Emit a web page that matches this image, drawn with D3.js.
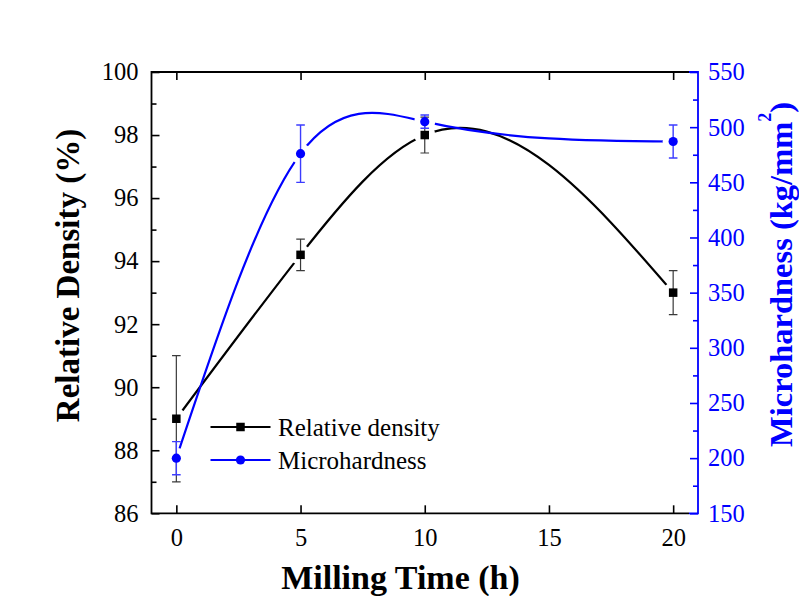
<!DOCTYPE html>
<html>
<head>
<meta charset="utf-8">
<script src="https://cdn.jsdelivr.net/npm/d3@7"></script>
<style>
  html, body { margin: 0; padding: 0; background: #ffffff; }
  svg { display: block; font-family: "Times New Roman", "Liberation Serif", serif; }
</style>
</head>
<body>
<svg id="chart" width="799" height="596"></svg>
<script>
// Milling time (h)
const millingTime = [0, 5, 10, 20];
// Relative density (%) and its error
const densityValues = [89.0, 94.2, 98.0, 93.0];
const densityErrors = [2.0, 0.5, 0.57, 0.7];
// Microhardness (kg/mm^2) and its error
const hardnessValues = [200, 476, 505, 487];
const hardnessErrors = [15, 26, 6, 15];

const xTicks = [0, 5, 10, 15, 20];
const leftTicks = [86, 88, 90, 92, 94, 96, 98, 100];
const leftMinorTicks = [87, 89, 91, 93, 95, 97, 99];
const rightTicks = [150, 200, 250, 300, 350, 400, 450, 500, 550];
const rightMinorTicks = [175, 225, 275, 325, 375, 425, 475, 525];

const legendLabels = ["Relative density", "Microhardness"];

const BLUE = "#0000ff";
const svg = d3.select("#chart");

const plot = { left: 151.5, right: 698, top: 72, bottom: 513.3 };

const x = d3.scaleLinear().domain([-1, 21]).range([plot.left, plot.right]);
const yL = d3.scaleLinear().domain([86, 100]).range([plot.bottom, plot.top]);
const yR = d3.scaleLinear().domain([150, 550]).range([plot.bottom, plot.top]);

// Natural cubic spline with x as the independent variable, emitted as exact Bezier segments
function curveNaturalX(context) {
  return {
    areaStart() {}, areaEnd() {},
    lineStart() { this._x = []; this._y = []; },
    point(px, py) { this._x.push(+px); this._y.push(+py); },
    lineEnd() {
      const X = this._x, Y = this._y, n = X.length;
      if (!n) return;
      context.moveTo(X[0], Y[0]);
      if (n === 1) return;
      const h = [];
      for (let i = 0; i < n - 1; i++) h.push(X[i + 1] - X[i]);
      const M = new Array(n).fill(0);
      if (n > 2) {
        const a = [], b = [], c = [], r = [];
        for (let i = 1; i < n - 1; i++) {
          a.push(h[i - 1]);
          b.push(2 * (h[i - 1] + h[i]));
          c.push(h[i]);
          r.push(6 * ((Y[i + 1] - Y[i]) / h[i] - (Y[i] - Y[i - 1]) / h[i - 1]));
        }
        const m = b.length;
        for (let i = 1; i < m; i++) {
          const w = a[i] / b[i - 1];
          b[i] -= w * c[i - 1];
          r[i] -= w * r[i - 1];
        }
        const sol = new Array(m);
        sol[m - 1] = r[m - 1] / b[m - 1];
        for (let i = m - 2; i >= 0; i--) sol[i] = (r[i] - c[i] * sol[i + 1]) / b[i];
        for (let i = 0; i < m; i++) M[i + 1] = sol[i];
      }
      for (let i = 0; i < n - 1; i++) {
        const hi = h[i];
        const s = (Y[i + 1] - Y[i]) / hi;
        const d0 = s - hi * (2 * M[i] + M[i + 1]) / 6;
        const d1 = s + hi * (M[i] + 2 * M[i + 1]) / 6;
        context.bezierCurveTo(
          X[i] + hi / 3, Y[i] + d0 * hi / 3,
          X[i + 1] - hi / 3, Y[i + 1] - d1 * hi / 3,
          X[i + 1], Y[i + 1]
        );
      }
    }
  };
}

// ---- Axes ----
const axisStyle = (g, color) => {
  g.selectAll(".domain").remove();
  g.selectAll(".tick line").attr("stroke", color).attr("stroke-width", 1.6);
  g.selectAll(".tick text").attr("fill", color).attr("font-size", 24.5)
    .attr("font-family", "'Times New Roman', 'Liberation Serif', serif");
};

// bottom
svg.append("g").attr("transform", `translate(0,${plot.bottom})`)
  .call(d3.axisBottom(x).tickValues(xTicks).tickSize(-8).tickPadding(15.3))
  .call(g => axisStyle(g, "#000"));
// top
svg.append("g").attr("transform", `translate(0,${plot.top})`)
  .call(d3.axisTop(x).tickValues(xTicks).tickSize(-8).tickFormat(""))
  .call(g => axisStyle(g, "#000"));
// left
svg.append("g").attr("transform", `translate(${plot.left},0)`)
  .call(d3.axisLeft(yL).tickValues(leftTicks).tickSize(-8).tickPadding(13).tickFormat(d3.format("d")))
  .call(g => axisStyle(g, "#000"));
svg.append("g").attr("transform", `translate(${plot.left},0)`)
  .call(d3.axisLeft(yL).tickValues(leftMinorTicks).tickSize(-5).tickFormat(""))
  .call(g => axisStyle(g, "#000"));
// right
svg.append("g").attr("transform", `translate(${plot.right},0)`)
  .call(d3.axisRight(yR).tickValues(rightTicks).tickSize(-8).tickPadding(10).tickFormat(d3.format("d")))
  .call(g => axisStyle(g, BLUE));
svg.append("g").attr("transform", `translate(${plot.right},0)`)
  .call(d3.axisRight(yR).tickValues(rightMinorTicks).tickSize(-5).tickFormat(""))
  .call(g => axisStyle(g, BLUE));

// frame
svg.append("path")
  .attr("d", `M${plot.right - 9},${plot.top}H${plot.left}V${plot.bottom}H${plot.right - 9}`)
  .attr("fill", "none").attr("stroke", "#000").attr("stroke-width", 1.8);
svg.append("path")
  .attr("d", `M${plot.right - 9},${plot.top}H${plot.right}V${plot.bottom}H${plot.right - 9}`)
  .attr("fill", "none").attr("stroke", BLUE).attr("stroke-width", 1.8);

// ---- Series ----
const densityPts = millingTime.map((t, i) => ({ t, v: densityValues[i], e: densityErrors[i] }));
const hardnessPts = millingTime.map((t, i) => ({ t, v: hardnessValues[i], e: hardnessErrors[i] }));

const defs = svg.append("defs");
function gapMask(id, pts, yScale) {
  const m = defs.append("mask").attr("id", id).attr("maskUnits", "userSpaceOnUse")
    .attr("x", 0).attr("y", 0).attr("width", 799).attr("height", 596);
  m.append("rect").attr("width", 799).attr("height", 596).attr("fill", "#fff");
  m.selectAll("circle").data(pts).join("circle")
    .attr("cx", d => x(d.t)).attr("cy", d => yScale(d.v)).attr("r", 10.5).attr("fill", "#000");
}
gapMask("gapDensity", densityPts, yL);
gapMask("gapHardness", hardnessPts, yR);

const lineDensity = d3.line().x(d => x(d.t)).y(d => yL(d.v)).curve(curveNaturalX);
const lineHardness = d3.line().x(d => x(d.t)).y(d => yR(d.v)).curve(curveNaturalX);

svg.append("path").datum(densityPts).attr("d", lineDensity)
  .attr("fill", "none").attr("stroke", "#000").attr("stroke-width", 2.2)
  .attr("mask", "url(#gapDensity)");
svg.append("path").datum(hardnessPts).attr("d", lineHardness)
  .attr("fill", "none").attr("stroke", BLUE).attr("stroke-width", 2.2)
  .attr("mask", "url(#gapHardness)");

function errorBars(pts, yScale, color, width) {
  const g = svg.append("g").attr("stroke", color).attr("stroke-width", width).attr("fill", "none");
  const cap = 4.3;
  g.selectAll("path").data(pts).join("path")
    .attr("d", d => {
      const cx = x(d.t), y0 = yScale(d.v - d.e), y1 = yScale(d.v + d.e);
      return `M${cx},${y0}V${y1}M${cx - cap},${y1}H${cx + cap}M${cx - cap},${y0}H${cx + cap}`;
    });
}
errorBars(densityPts, yL, "#3a3a3a", 1.2);
errorBars(hardnessPts, yR, "#3c3cff", 1.4);

const sq = 8.5;
svg.append("g").selectAll("rect").data(densityPts).join("rect")
  .attr("x", d => x(d.t) - sq / 2).attr("y", d => yL(d.v) - sq / 2)
  .attr("width", sq).attr("height", sq).attr("fill", "#000");
svg.append("g").selectAll("circle").data(hardnessPts).join("circle")
  .attr("cx", d => x(d.t)).attr("cy", d => yR(d.v)).attr("r", 4.6).attr("fill", BLUE);

// ---- Legend ----
const legend = svg.append("g");
const legendY = [427, 460];
const legendColors = ["#000", BLUE];
legendLabels.forEach((label, i) => {
  const ly = legendY[i];
  legend.append("line").attr("x1", 210.5).attr("x2", 270.5).attr("y1", ly).attr("y2", ly)
    .attr("stroke", legendColors[i]).attr("stroke-width", 2.2);
  if (i === 0) {
    legend.append("rect").attr("x", 240.5 - sq / 2).attr("y", ly - sq / 2)
      .attr("width", sq).attr("height", sq).attr("fill", "#000");
  } else {
    legend.append("circle").attr("cx", 240.5).attr("cy", ly).attr("r", 4.6).attr("fill", BLUE);
  }
  legend.append("text").attr("x", 278).attr("y", ly + 8.5)
    .attr("font-size", 25).attr("fill", "#000").text(label);
});

// ---- Axis titles ----
svg.append("text")
  .attr("transform", "translate(79,275.5) rotate(-90)")
  .attr("text-anchor", "middle").attr("font-size", 33).attr("font-weight", "bold")
  .attr("fill", "#000").text("Relative Density (%)");

svg.append("text")
  .attr("x", 400.5).attr("y", 589)
  .attr("text-anchor", "middle").attr("font-size", 34).attr("font-weight", "bold")
  .attr("fill", "#000").text("Milling Time (h)");

const rt = svg.append("text")
  .attr("transform", "translate(792,447) rotate(-90)")
  .attr("text-anchor", "start").attr("font-size", 32.5).attr("font-weight", "bold")
  .attr("fill", BLUE);
rt.append("tspan").text("Microhardness (kg/mm");
rt.append("tspan").attr("font-size", 18).attr("dy", -21).text("2");
rt.append("tspan").attr("dy", 21).text(")");
</script>
</body>
</html>
